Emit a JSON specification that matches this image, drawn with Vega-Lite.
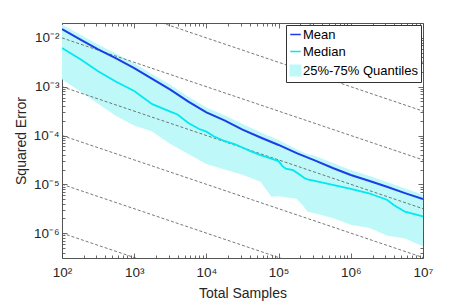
{
  "$schema": "https://vega.github.io/schema/vega-lite/v6.json",
  "width": 361,
  "height": 235,
  "autosize": {"type": "none"},
  "padding": {"left": 62, "top": 23, "right": 34, "bottom": 47},
  "background": "white",
  "config": {
    "view": {"stroke": "#555555", "strokeWidth": 1},
    "font": "Liberation Sans",
    "axis": {
      "domain": false,
      "grid": false,
      "tickColor": "#444444",
      "tickWidth": 0.8,
      "labelFont": "Liberation Sans",
      "labelFontSize": 13.5,
      "labelColor": "#262626",
      "titleFont": "Liberation Sans",
      "titleFontSize": 14,
      "titleFontWeight": "normal",
      "titleColor": "#262626"
    }
  },
  "datasets": {
    "band": [
      {"x": 100, "lo": 0.001422, "hi": 0.0189},
      {"x": 177.8, "lo": 0.000809, "hi": 0.0117},
      {"x": 316.2, "lo": 0.00045, "hi": 0.0073},
      {"x": 562.3, "lo": 0.00025, "hi": 0.00479},
      {"x": 1000, "lo": 0.00016, "hi": 0.00304},
      {"x": 1778, "lo": 0.0001208, "hi": 0.00181},
      {"x": 3162, "lo": 0.0000671, "hi": 0.001095},
      {"x": 5623, "lo": 0.0000419, "hi": 0.00062},
      {"x": 10000, "lo": 0.0000262, "hi": 0.000375},
      {"x": 17783, "lo": 0.0000202, "hi": 0.00026},
      {"x": 31623, "lo": 0.00001563, "hi": 0.000172},
      {"x": 56234, "lo": 0.00001125, "hi": 0.000116},
      {"x": 70795, "lo": 0.00000703, "hi": 0.0001},
      {"x": 79433, "lo": 0.00000556, "hi": 0.000094},
      {"x": 100000, "lo": 0.00000569, "hi": 0.00008},
      {"x": 177828, "lo": 0.00000506, "hi": 0.000052},
      {"x": 223872, "lo": 0.00000348, "hi": 0.000045},
      {"x": 251189, "lo": 0.00000275, "hi": 0.000042},
      {"x": 316228, "lo": 0.00000256, "hi": 0.0000385},
      {"x": 562341, "lo": 0.00000204, "hi": 0.0000272},
      {"x": 1000000, "lo": 0.00000149, "hi": 0.0000196},
      {"x": 1778279, "lo": 0.000001294, "hi": 0.0000149},
      {"x": 3162278, "lo": 0.000000889, "hi": 0.0000112},
      {"x": 5623413, "lo": 0.000000773, "hi": 0.0000082},
      {"x": 10000000, "lo": 0.000000538, "hi": 0.0000061}
    ],
    "mean": [
      {"x": 100, "y": 0.01514},
      {"x": 177.8, "y": 0.00931},
      {"x": 316.2, "y": 0.00579},
      {"x": 562.3, "y": 0.0038},
      {"x": 1000, "y": 0.00241},
      {"x": 1778, "y": 0.00144},
      {"x": 3162, "y": 0.000869},
      {"x": 5623, "y": 0.000495},
      {"x": 10000, "y": 0.000298},
      {"x": 17783, "y": 0.000204},
      {"x": 31623, "y": 0.000132},
      {"x": 56234, "y": 0.000091},
      {"x": 100000, "y": 0.000064},
      {"x": 177828, "y": 0.0000434},
      {"x": 316228, "y": 0.0000309},
      {"x": 562341, "y": 0.0000216},
      {"x": 1000000, "y": 0.00001556},
      {"x": 1778279, "y": 0.00001183},
      {"x": 3162278, "y": 0.00000889},
      {"x": 5623413, "y": 0.00000661},
      {"x": 10000000, "y": 0.00000499}
    ],
    "median": [
      {"x": 100, "y": 0.00619},
      {"x": 177.8, "y": 0.00371},
      {"x": 316.2, "y": 0.00207},
      {"x": 562.3, "y": 0.00126},
      {"x": 1000, "y": 0.00082},
      {"x": 1778, "y": 0.00044},
      {"x": 3162, "y": 0.000309},
      {"x": 3981, "y": 0.000269},
      {"x": 5623, "y": 0.00018},
      {"x": 7943, "y": 0.000136},
      {"x": 10000, "y": 0.00012},
      {"x": 12589, "y": 0.0000964},
      {"x": 17783, "y": 0.0000773},
      {"x": 25119, "y": 0.0000661},
      {"x": 39811, "y": 0.0000483},
      {"x": 56234, "y": 0.0000396},
      {"x": 89125, "y": 0.0000316},
      {"x": 100000, "y": 0.0000299},
      {"x": 112202, "y": 0.0000239},
      {"x": 125893, "y": 0.0000209},
      {"x": 158489, "y": 0.0000195},
      {"x": 199526, "y": 0.00001549},
      {"x": 223872, "y": 0.00001358},
      {"x": 251189, "y": 0.00001265},
      {"x": 316228, "y": 0.00001178},
      {"x": 562341, "y": 0.00000977},
      {"x": 1000000, "y": 0.00000809},
      {"x": 1778279, "y": 0.00000655},
      {"x": 3162278, "y": 0.00000483},
      {"x": 3981072, "y": 0.00000372},
      {"x": 5623413, "y": 0.00000275},
      {"x": 10000000, "y": 0.0000022}
    ],
    "refs": [
      {"g": "a", "x": 100, "y": 1}, {"g": "a", "x": 10000000, "y": 0.0031623},
      {"g": "b", "x": 100, "y": 0.1}, {"g": "b", "x": 10000000, "y": 0.00031623},
      {"g": "c", "x": 100, "y": 0.01}, {"g": "c", "x": 10000000, "y": 0.000031623},
      {"g": "d", "x": 100, "y": 0.001}, {"g": "d", "x": 10000000, "y": 0.0000031623},
      {"g": "e", "x": 100, "y": 0.0001}, {"g": "e", "x": 10000000, "y": 0.00000031623},
      {"g": "f", "x": 100, "y": 0.00001}, {"g": "f", "x": 10000000, "y": 0.000000031623},
      {"g": "h", "x": 100, "y": 0.000001}, {"g": "h", "x": 10000000, "y": 0.0000000031623}
    ]
  },
  "resolve": {"axis": {"x": "independent", "y": "independent"}},
  "layer": [
    {
      "data": {"name": "band"},
      "mark": {"type": "area", "clip": true, "opacity": 1},
      "encoding": {
        "x": {
          "field": "x", "type": "quantitative",
          "scale": {"type": "log", "domain": [100, 10000000], "nice": false},
          "axis": {
            "orient": "bottom",
            "title": "Total Samples",
            "titlePadding": 7,
            "labelPadding": 12.5,
            "labelFlush": false,
            "values": [100,200,300,400,500,600,700,800,900,1000,2000,3000,4000,5000,6000,7000,8000,9000,10000,20000,30000,40000,50000,60000,70000,80000,90000,100000,200000,300000,400000,500000,600000,700000,800000,900000,1000000,2000000,3000000,4000000,5000000,6000000,7000000,8000000,9000000,10000000],
            "labelExpr": "abs(log(datum.value)/LN10 - round(log(datum.value)/LN10)) < 0.001 ? '10' + ['⁰','¹','²','³','⁴','⁵','⁶','⁷'][round(log(datum.value)/LN10)] : ''",
            "tickSize": {"condition": {"test": "abs(log(datum.value)/LN10 - round(log(datum.value)/LN10)) < 0.001", "value": -5}, "value": -3}
          }
        },
        "y": {
          "field": "hi", "type": "quantitative",
          "scale": {"type": "log", "domain": [3.09e-7, 0.0202], "nice": false},
          "axis": {
            "orient": "left",
            "title": "Squared Error",
            "titlePadding": 5,
            "labelPadding": 8,
            "labelFlush": false,
            "values": [4e-7,5e-7,6e-7,7e-7,8e-7,9e-7,1e-6,2e-6,3e-6,4e-6,5e-6,6e-6,7e-6,8e-6,9e-6,1e-5,2e-5,3e-5,4e-5,5e-5,6e-5,7e-5,8e-5,9e-5,1e-4,2e-4,3e-4,4e-4,5e-4,6e-4,7e-4,8e-4,9e-4,1e-3,2e-3,3e-3,4e-3,5e-3,6e-3,7e-3,8e-3,9e-3,1e-2],
            "labelExpr": "abs(log(datum.value)/LN10 - round(log(datum.value)/LN10)) < 0.001 ? '10⁻' + ['⁰','¹','²','³','⁴','⁵','⁶','⁷'][-round(log(datum.value)/LN10)] : ''",
            "tickSize": {"condition": {"test": "abs(log(datum.value)/LN10 - round(log(datum.value)/LN10)) < 0.001", "value": -5}, "value": -3}
          }
        },
        "y2": {"field": "lo"},
        "color": {
          "datum": "25%-75% Quantiles",
          "scale": {"domain": ["Mean", "Median", "25%-75% Quantiles"], "range": ["#1c3ce6", "#00e8f0", "#bff8f8"]},
          "legend": {
            "title": null,
            "orient": "top-right",
            "offset": 2,
            "padding": 3,
            "strokeColor": "#333333",
            "fillColor": "white",
            "cornerRadius": 0,
            "labelFont": "Liberation Sans",
            "labelFontSize": 13,
            "labelColor": "black",
            "labelOffset": 1,
            "rowPadding": 3,
            "symbolSize": 110,
            "symbolStrokeWidth": 1.5,
            "symbolType": {"expr": "datum.value === '25%-75% Quantiles' ? 'square' : 'stroke'"},
            "symbolStrokeColor": {"expr": "datum.value === 'Mean' ? '#1c3ce6' : (datum.value === 'Median' ? '#00e8f0' : 'transparent')"}
          }
        }
      }
    },
    {
      "data": {"name": "refs"},
      "mark": {"type": "line", "clip": true, "stroke": "#555555", "strokeWidth": 0.8, "strokeDash": [3, 2]},
      "encoding": {
        "x": {
          "field": "x", "type": "quantitative",
          "scale": {"type": "log", "domain": [100, 10000000], "nice": false},
          "axis": {
            "orient": "top", "title": null, "labels": false,
            "values": [100,200,300,400,500,600,700,800,900,1000,2000,3000,4000,5000,6000,7000,8000,9000,10000,20000,30000,40000,50000,60000,70000,80000,90000,100000,200000,300000,400000,500000,600000,700000,800000,900000,1000000,2000000,3000000,4000000,5000000,6000000,7000000,8000000,9000000,10000000],
            "tickSize": {"condition": {"test": "abs(log(datum.value)/LN10 - round(log(datum.value)/LN10)) < 0.001", "value": -5}, "value": -3}
          }
        },
        "y": {
          "field": "y", "type": "quantitative",
          "scale": {"type": "log", "domain": [3.09e-7, 0.0202], "nice": false},
          "axis": {
            "orient": "right", "title": null, "labels": false,
            "values": [4e-7,5e-7,6e-7,7e-7,8e-7,9e-7,1e-6,2e-6,3e-6,4e-6,5e-6,6e-6,7e-6,8e-6,9e-6,1e-5,2e-5,3e-5,4e-5,5e-5,6e-5,7e-5,8e-5,9e-5,1e-4,2e-4,3e-4,4e-4,5e-4,6e-4,7e-4,8e-4,9e-4,1e-3,2e-3,3e-3,4e-3,5e-3,6e-3,7e-3,8e-3,9e-3,1e-2],
            "tickSize": {"condition": {"test": "abs(log(datum.value)/LN10 - round(log(datum.value)/LN10)) < 0.001", "value": -5}, "value": -3}
          }
        },
        "detail": {"field": "g"}
      }
    },
    {
      "data": {"name": "median"},
      "mark": {"type": "line", "clip": true, "strokeWidth": 1.8},
      "encoding": {
        "x": {"field": "x", "type": "quantitative", "scale": {"type": "log", "domain": [100, 10000000], "nice": false}, "axis": null},
        "y": {"field": "y", "type": "quantitative", "scale": {"type": "log", "domain": [3.09e-7, 0.0202], "nice": false}, "axis": null},
        "color": {"datum": "Median", "legend": null}
      }
    },
    {
      "data": {"name": "mean"},
      "mark": {"type": "line", "clip": true, "strokeWidth": 2},
      "encoding": {
        "x": {"field": "x", "type": "quantitative", "scale": {"type": "log", "domain": [100, 10000000], "nice": false}, "axis": null},
        "y": {"field": "y", "type": "quantitative", "scale": {"type": "log", "domain": [3.09e-7, 0.0202], "nice": false}, "axis": null},
        "color": {"datum": "Mean", "legend": null}
      }
    }
  ]
}
